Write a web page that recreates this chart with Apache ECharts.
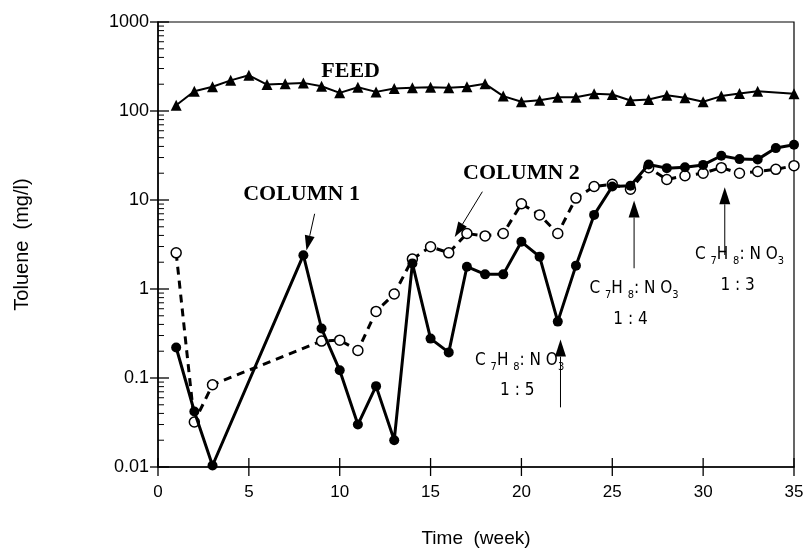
<!DOCTYPE html>
<html>
<head>
<meta charset="utf-8">
<script src="https://cdn.jsdelivr.net/npm/echarts@6/dist/echarts.min.js"></script>
<style>
html,body{margin:0;padding:0;background:#fff;}
#c{width:810px;height:553px;}
</style>
</head>
<body>
<div id="c"></div>
<script>
// ---- data ----
const feedWeeks = [1,2,3,4,5,6,7,8,9,10,11,12,13,14,15,16,17,18,19,20,21,22,23,24,25,26,27,28,29,30,31,32,33,35];
const feedValues = [116,167,187,221,252,198,202,207,190,160,185,164,179,182,185,182,187,202,147,127,132,143,143,156,153,131,135,150,141,127,147,157,167,156];

const col1Weeks = [1,2,3,8,9,10,11,12,13,14,15,16,17,18,19,20,21,22,23,24,25,26,27,28,29,30,31,32,33,34,35];
const col1Values = [0.22,0.042,0.0104,2.4,0.36,0.122,0.030,0.081,0.020,1.94,0.277,0.194,1.78,1.46,1.46,3.39,2.31,0.43,1.83,6.8,14.2,14.5,25,22.8,23.3,24.8,31.4,28.8,28.6,38.3,41.7];

const col2Weeks = [1,2,3,9,10,11,12,13,14,15,16,17,18,19,20,21,22,23,24,25,26,27,28,29,30,31,32,33,34,35];
const col2Values = [2.55,0.032,0.084,0.26,0.266,0.204,0.56,0.88,2.17,2.98,2.55,4.2,3.95,4.2,9.07,6.8,4.2,10.5,14.2,15,13.2,23,17,18.7,20,23.1,20,20.9,22.1,24.3];

const xTickValues = [0,5,10,15,20,25,30,35];
const yTickValues = [0.01,0.1,1,10,100,1000];
const yTickLabels = ['0.01','0.1','1','10','100','1000'];

// annotations (data coordinates)
const seriesLabels = ['FEED','COLUMN 1','COLUMN 2'];
const seriesLabelPos = [[10.6,277],[7.9,11.7],[20.0,20.1]];
const arrows = [[8.62,7.0,8.17,2.71],[17.85,12.4,16.33,3.85],[22.15,0.0468,22.15,0.27],[26.2,1.71,26.2,9.87],[31.19,2.41,31.19,13.9]];
const ratioLabels = ['1 : 5','1 : 4','1 : 3'];
const formulaPos = [[19.9,0.156],[26.2,1.02],[32.0,2.41]];
const ratioPos = [[19.77,0.0723],[26.0,0.454],[31.9,1.09]];

const pair = (xs, ys) => xs.map((x,i)=>[x, ys[i]]);
const minorY = [];
[0.01,0.1,1,10,100].forEach(d=>{ for(let k=2;k<=9;k++) minorY.push(d*k); });

const chart = echarts.init(document.getElementById('c'), null, {renderer:'canvas'});
const sansFont = "'Liberation Sans', Arial, Helvetica, sans-serif";

function tickSeries(data, fn){
  return {type:'custom', data:data, silent:true, clip:false, z:5,
    renderItem:(params, api)=>{ const p = api.coord([api.value(0), api.value(1)]); return fn(p); }};
}

const option = {
  animation:false,
  backgroundColor:'#fff',
  grid:{left:158, right:16, top:22, bottom:83, show:true, borderColor:'#000', borderWidth:1.2, backgroundColor:'transparent'},
  xAxis:{type:'value', min:0, max:35, interval:5,
    name:'Time  (week)', nameLocation:'middle', nameGap:62,
    nameTextStyle:{fontFamily:sansFont, fontSize:19, color:'#000'},
    axisLine:{show:true, lineStyle:{color:'#000', width:1.5}},
    axisTick:{show:false}, splitLine:{show:false},
    axisLabel:{fontFamily:sansFont, fontSize:17, color:'#000', margin:17}},
  yAxis:{type:'log', logBase:10, min:0.01, max:1000,
    name:'Toluene  (mg/l)', nameLocation:'middle', nameGap:126, nameRotate:90,
    nameTextStyle:{fontFamily:sansFont, fontSize:20, color:'#000'},
    axisLine:{show:true, lineStyle:{color:'#000', width:1.5}},
    axisTick:{show:false}, splitLine:{show:false}, minorSplitLine:{show:false},
    axisLabel:{fontFamily:sansFont, fontSize:18, color:'#000', margin:9,
      formatter:(v)=>{ const i = Math.round(Math.log10(v))+2; return yTickLabels[i] !== undefined ? yTickLabels[i] : ''; }}},
  series:[
    tickSeries(yTickValues.map(v=>[0,v]), p=>({type:'line', shape:{x1:p[0]-8,y1:p[1],x2:p[0]+11,y2:p[1]}, style:{stroke:'#000', lineWidth:1.3}})),
    tickSeries(minorY.map(v=>[0,v]), p=>({type:'line', shape:{x1:p[0],y1:p[1],x2:p[0]+6,y2:p[1]}, style:{stroke:'#000', lineWidth:1}})),
    tickSeries(xTickValues.map(v=>[v,0.01]), p=>({type:'line', shape:{x1:p[0],y1:p[1]-9,x2:p[0],y2:p[1]+9}, style:{stroke:'#000', lineWidth:1.3}})),
    {name:'Column 2', type:'line', data:pair(col2Weeks,col2Values), z:3,
      symbol:'circle', symbolSize:10,
      itemStyle:{color:'#ffffff', borderColor:'#000', borderWidth:1.5},
      lineStyle:{color:'#000', width:3, type:[8,6]}},
    {name:'Column 1', type:'line', data:pair(col1Weeks,col1Values), z:4,
      symbol:'circle', symbolSize:10,
      itemStyle:{color:'#000'},
      lineStyle:{color:'#000', width:3}},
    {name:'Feed', type:'line', data:pair(feedWeeks,feedValues), z:4,
      symbol:'triangle', symbolSize:11,
      itemStyle:{color:'#000'},
      lineStyle:{color:'#000', width:2}}
  ]
};
chart.setOption(option);

function toPx(p){ return chart.convertToPixel({xAxisIndex:0, yAxisIndex:0}, p); }

const g = [];
seriesLabels.forEach((t,i)=>{
  const p = toPx(seriesLabelPos[i]);
  g.push({type:'text', x:p[0], y:p[1], z:10, style:{text:t, fill:'#000', font:"bold 22px 'Liberation Serif', 'Times New Roman', serif", align:'center', verticalAlign:'middle'}});
});
arrows.forEach((a,i)=>{
  const p0 = toPx([a[0],a[1]]), p1 = toPx([a[2],a[3]]);
  const dx = p1[0]-p0[0], dy = p1[1]-p0[1], len = Math.hypot(dx,dy);
  const ux = dx/len, uy = dy/len;
  const L = i<2 ? 15 : 17, W = i<2 ? 5 : 5.5;
  const bx = p1[0]-ux*L, by = p1[1]-uy*L;
  g.push({type:'line', z:10, shape:{x1:p0[0],y1:p0[1],x2:bx,y2:by}, style:{stroke:'#000', lineWidth:1}});
  g.push({type:'polygon', z:10, shape:{points:[[p1[0],p1[1]],[bx-uy*W,by+ux*W],[bx+uy*W,by-ux*W]]}, style:{fill:'#000'}});
});
const narrow = "'Liberation Sans Narrow', 'DejaVu Sans Condensed', 'Liberation Sans', sans-serif";
formulaPos.forEach((fp,i)=>{
  const p = toPx(fp);
  g.push({type:'text', x:p[0], y:p[1], z:10, style:{
    text:'{m|C }{s|7}{m|H }{s|8}{m|: N O}{s|3}',
    align:'center', verticalAlign:'middle',
    rich:{m:{fontFamily:narrow, fontSize:17, lineHeight:24, fill:'#000', verticalAlign:'middle'},
          s:{fontFamily:narrow, fontSize:11, lineHeight:12, fill:'#000', verticalAlign:'bottom'}}}});
  const q = toPx(ratioPos[i]);
  g.push({type:'text', x:q[0], y:q[1], z:10, style:{text:ratioLabels[i], fill:'#000', font:"17px " + narrow, align:'center', verticalAlign:'middle'}});
});
chart.setOption({graphic:g});
</script>
</body>
</html>
